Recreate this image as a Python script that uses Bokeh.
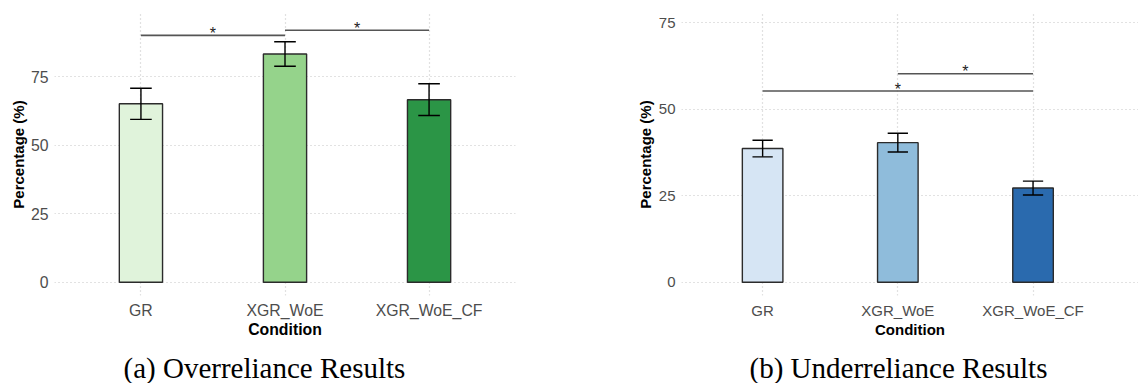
from bokeh.plotting import figure
from bokeh.layouts import row
from bokeh.models import Range1d, FixedTicker, Title
from bokeh.embed import file_html
from bokeh.resources import INLINE
from bokeh.core.properties import value

# Conditions and per-condition results (mean percentage and standard error)
conditions = ["GR", "XGR_WoE", "XGR_WoE_CF"]
over_mean = [65.2, 83.4, 66.7]
over_se = [5.7, 4.5, 5.8]
under_mean = [38.6, 40.3, 27.2]
under_se = [2.4, 2.7, 2.0]

green_fill = ["#e0f3db", "#95d38b", "#2b9546"]
blue_fill = ["#d6e5f4", "#8fbcdb", "#2a6aae"]

y_ticks = [0, 25, 50, 75]

# Pairwise significance brackets: (from condition, to condition, height)
over_sig_from = ["GR", "XGR_WoE"]
over_sig_to = ["XGR_WoE", "XGR_WoE_CF"]
over_sig_y = [90.2, 92.1]
over_sig_mark = ["*", "*"]

under_sig_from = ["GR", "XGR_WoE"]
under_sig_to = ["XGR_WoE_CF", "XGR_WoE_CF"]
under_sig_y = [55.2, 60.2]
under_sig_mark = ["*", "*"]

captions = ["(a) Overreliance Results", "(b) Underreliance Results"]

SANS = "Liberation Sans"
SERIF = "Liberation Serif"


def panel(means, ses, fills, sig_from, sig_to, sig_y, sig_mark, caption,
          width, border_left, border_right, x_end, y_start, y_end,
          font_px, ylabel_standoff, caption_offset):
    pos = {c: i + 1 for i, c in enumerate(conditions)}
    xs = [pos[c] for c in conditions]

    p = figure(width=width, height=383, output_backend="svg", toolbar_location=None,
               x_range=Range1d(0.4, x_end), y_range=Range1d(y_start, y_end),
               min_border_left=border_left, min_border_right=border_right,
               min_border_top=13, min_border_bottom=88)
    p.outline_line_color = None
    p.background_fill_color = "white"
    p.border_fill_color = "white"

    # grid
    p.grid.grid_line_color = "#c4c4c4"
    p.grid.grid_line_dash = "1 3"
    p.grid.grid_line_width = 1.2

    # axes
    p.xaxis.ticker = FixedTicker(ticks=xs)
    p.xaxis.major_label_overrides = {pos[c]: c for c in conditions}
    p.yaxis.ticker = FixedTicker(ticks=y_ticks)
    for ax in (p.xaxis, p.yaxis):
        ax.axis_line_color = None
        ax.major_tick_line_color = None
        ax.minor_tick_line_color = None
        ax.major_label_text_font = SANS
        ax.major_label_text_color = "#4d4d4d"
        ax.major_label_text_font_size = f"{font_px}px"
        ax.axis_label_text_font = SANS
        ax.axis_label_text_font_style = "bold"
        ax.axis_label_text_color = "black"
    p.xaxis.axis_label = "Condition"
    p.xaxis.axis_label_text_font_size = f"{font_px}px"
    p.xaxis.major_label_standoff = 0
    p.xaxis.axis_label_standoff = -1
    p.yaxis.major_tick_out = 0
    p.yaxis.major_tick_in = 0
    p.yaxis.axis_label = "Percentage (%)"
    p.yaxis.axis_label_text_font_size = "15px"
    p.yaxis.major_label_standoff = 6
    p.yaxis.axis_label_standoff = ylabel_standoff

    # bars
    p.vbar(x=xs, top=means, bottom=0, width=0.3, fill_color=fills,
           line_color="#2b2b2b", line_width=1.4)

    # error bars
    lo = [m - s for m, s in zip(means, ses)]
    hi = [m + s for m, s in zip(means, ses)]
    cap = 0.075
    p.segment(x0=xs, y0=lo, x1=xs, y1=hi, line_color="black", line_width=1.4)
    p.segment(x0=[x - cap for x in xs], y0=hi, x1=[x + cap for x in xs], y1=hi,
              line_color="black", line_width=1.4)
    p.segment(x0=[x - cap for x in xs], y0=lo, x1=[x + cap for x in xs], y1=lo,
              line_color="black", line_width=1.4)

    # significance brackets
    sx0 = [pos[c] for c in sig_from]
    sx1 = [pos[c] for c in sig_to]
    p.segment(x0=sx0, y0=sig_y, x1=sx1, y1=sig_y, line_color="#555555", line_width=1.6)
    p.text(x=[(a + b) / 2 for a, b in zip(sx0, sx1)], y=sig_y, text=sig_mark,
           text_font=value(SANS), text_font_size="16px", text_color="#222222",
           text_align="center", text_baseline="alphabetic", y_offset=-2)

    # blank gap between the axis and the sub-figure caption
    p.add_layout(Title(text=" ", text_font_size="1px", standoff=6), "below")
    # sub-figure caption
    p.add_layout(Title(text=caption, align="left", offset=caption_offset,
                       text_font=SERIF, text_font_size="29px",
                       text_font_style="normal", text_color="black",
                       vertical_align="bottom", standoff=0), "below")
    return p


left = panel(over_mean, over_se, green_fill, over_sig_from, over_sig_to, over_sig_y,
             over_sig_mark, captions[0], width=580, border_left=54, border_right=65,
             x_end=3.6, y_start=-4.86, y_end=98.2, font_px=15.8,
             ylabel_standoff=1, caption_offset=69)
right = panel(under_mean, under_se, blue_fill, under_sig_from, under_sig_to, under_sig_y,
              under_sig_mark, captions[1], width=558, border_left=101, border_right=0,
              x_end=3.78, y_start=-3.84, y_end=77.6, font_px=15,
              ylabel_standoff=2, caption_offset=68)

layout = row(left, right, spacing=0)
open("out.html", "w").write(file_html(layout, INLINE))
